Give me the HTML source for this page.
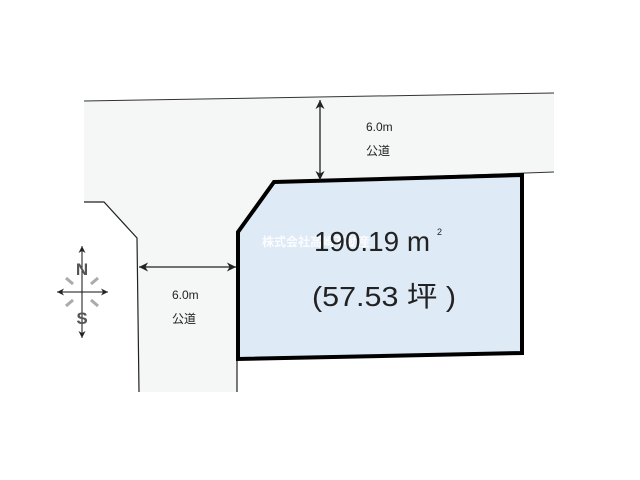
<!DOCTYPE html><html><head><meta charset="utf-8"><style>body{margin:0;background:#fff}svg{display:block}</style></head><body>
<svg width="640" height="480" viewBox="0 0 640 480" xmlns="http://www.w3.org/2000/svg" font-family="Liberation Sans, Noto Sans CJK JP, sans-serif">
<defs><marker id="a" viewBox="0 0 10 10" refX="10" refY="5" markerWidth="7" markerHeight="7" orient="auto-start-reverse"><path d="M0,0L10,5L0,10L3,5z" fill="#222"/></marker></defs>
<polygon points="84,101 554,93 554,172 274,182 238,232 237,392 139,392 137,238 104,202 84,202" fill="#f5f6f6"/>
<polyline points="84,101 554,93" fill="none" stroke="#333" stroke-width="1"/>
<polyline points="274,182 554,172" fill="none" stroke="#333" stroke-width="1"/>
<polyline points="84,202 104,202 137,238 139,392" fill="none" stroke="#222" stroke-width="1.2"/>
<line x1="237" y1="359" x2="237" y2="392" stroke="#222" stroke-width="1.2"/>
<polygon points="274,182 522,175 522,353 238,359 238,232" fill="#dfeaf7" stroke="#000" stroke-width="4" stroke-linejoin="miter"/>
<line x1="320" y1="100" x2="320" y2="180" stroke="#222" stroke-width="1.3" marker-start="url(#a)" marker-end="url(#a)"/>
<line x1="139" y1="267" x2="236" y2="267" stroke="#222" stroke-width="1.3" marker-start="url(#a)" marker-end="url(#a)"/>
<text x="366" y="131" font-size="12" fill="#222">6.0m</text>
<text x="366" y="155" font-size="12" fill="#222">公道</text>
<text x="172" y="299" font-size="12" fill="#222">6.0m</text>
<text x="172" y="323" font-size="12" fill="#222">公道</text>
<text x="262" y="246" font-size="12" fill="#fff" font-weight="bold" opacity="0.9">株式会社高崎不動産</text>
<text x="314" y="251" font-size="28" fill="#222" textLength="116" lengthAdjust="spacingAndGlyphs">190.19 m</text>
<text x="437" y="235" font-size="9" fill="#222">2</text>
<text x="312" y="306" font-size="28" fill="#222" textLength="144" lengthAdjust="spacingAndGlyphs">(57.53 坪 )</text>
<line x1="82" y1="246" x2="82" y2="338" stroke="#111" stroke-width="1" marker-start="url(#a)" marker-end="url(#a)"/>
<line x1="57" y1="292" x2="108" y2="292" stroke="#111" stroke-width="1" marker-start="url(#a)" marker-end="url(#a)"/>
<g stroke="#aaa" stroke-width="3"><line x1="66" y1="278" x2="73" y2="284"/><line x1="98" y1="278" x2="91" y2="284"/><line x1="66" y1="306" x2="73" y2="300"/><line x1="98" y1="306" x2="91" y2="300"/></g>
<text x="82" y="275" font-size="17" font-weight="bold" fill="#555" text-anchor="middle">N</text>
<text x="82" y="324" font-size="17" font-weight="bold" fill="#555" text-anchor="middle">S</text>
</svg></body></html>
